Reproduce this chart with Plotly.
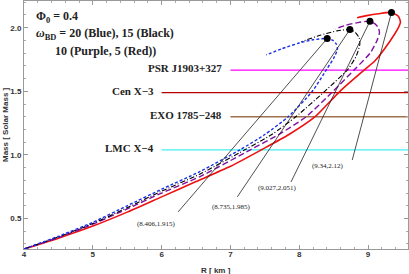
import plotly.graph_objects as go

# ---- Data ----
blue_R = [4.0, 4.5, 5.0, 5.5, 6.0, 6.56, 7.14, 7.5, 7.84, 8.19, 8.40, 8.50, 8.555, 8.54, 8.49, 8.406, 8.2, 8.0, 7.75, 7.52]
blue_M = [0.26, 0.36, 0.47, 0.60, 0.73, 0.87, 1.04, 1.16, 1.30, 1.50, 1.675, 1.76, 1.83, 1.87, 1.90, 1.915, 1.905, 1.88, 1.835, 1.786]

black_R = [4.0, 4.5, 5.0, 5.5, 6.0, 6.56, 7.21, 7.6, 7.95, 8.37, 8.71, 8.83, 8.88, 8.87, 8.82, 8.735, 8.55, 8.3, 8.03]
black_M = [0.26, 0.355, 0.46, 0.585, 0.715, 0.85, 1.04, 1.16, 1.30, 1.50, 1.675, 1.78, 1.87, 1.92, 1.96, 1.985, 1.975, 1.94, 1.89]

purple_R = [4.0, 4.5, 5.0, 5.5, 6.0, 6.56, 7.29, 7.7, 8.1, 8.49, 8.81, 9.03, 9.13, 9.165, 9.15, 9.10, 9.027, 8.85, 8.68, 8.52]
purple_M = [0.26, 0.35, 0.455, 0.575, 0.70, 0.83, 1.04, 1.16, 1.30, 1.50, 1.675, 1.80, 1.90, 1.96, 2.0, 2.03, 2.051, 2.04, 2.02, 1.99]

red_R = [4.0, 4.5, 5.0, 5.5, 6.0, 6.5, 7.0, 7.45, 7.85, 8.23, 8.59, 8.96, 9.10, 9.32, 9.44, 9.47, 9.44, 9.34, 9.15, 8.98, 8.84]
red_M = [0.26, 0.345, 0.44, 0.55, 0.67, 0.79, 0.91, 1.04, 1.16, 1.30, 1.50, 1.675, 1.74, 1.896, 2.0, 2.045, 2.09, 2.12, 2.11, 2.095, 2.078]

peak_R = [8.406, 8.735, 9.027, 9.34]
peak_M = [1.915, 1.985, 2.051, 2.12]
peak_labels = ["(8.406,1.915)", "(8.735,1.985)", "(9.027,2.051)", "(9.34,2.12)"]
# where each call-out line ends and where its label sits (data units)
callout_tail_R = [6.24, 7.10, 7.88, 8.77]
callout_tail_M = [0.552, 0.67, 0.787, 0.96]
callout_label_R = [5.93, 7.01, 7.69, 8.42]
callout_label_M = [0.457, 0.59, 0.74, 0.91]

star_names = ["PSR J1903+327", "Cen X\u22123", "EXO 1785\u2212248", "LMC X\u22124"]
star_M = [1.667, 1.49, 1.30, 1.04]
star_R_start = [7.0, 6.0, 7.0, 6.0]
star_colors = ["#ff00ff", "#b80000", "#a07050", "#44eef2"]

x_range = [4.0, 9.58]
y_range = [0.26, 2.21]

fig = go.Figure()

# reference lines
for name, m, r0, c in zip(star_names, star_M, star_R_start, star_colors):
    fig.add_trace(go.Scatter(x=[r0, x_range[1]], y=[m, m], mode="lines",
                             line=dict(color=c, width=1.3), hoverinfo="skip"))
    fig.add_annotation(x=r0, y=m, text="<b>%s</b>" % name, showarrow=False,
                       xanchor="right", yanchor="middle", xshift=-6, yshift=2,
                       font=dict(family="Liberation Serif", size=11, color="#222"))

curves = [
    (red_R, red_M, "#ee1111", "solid", 1.6),
    (purple_R, purple_M, "#8010a0", "6px,3px", 1.4),
    (black_R, black_M, "#000000", "5px,2px,1px,2px", 1.1),
    (blue_R, blue_M, "#1a2ee8", "3px,2px", 1.4),
]
for R, M, c, d, w in curves:
    fig.add_trace(go.Scatter(x=R, y=M, mode="lines",
                             line=dict(color=c, dash=d, width=w, shape="spline", smoothing=0.6),
                             hoverinfo="skip"))

# call-out lines
for pr, pm, tr, tm in zip(peak_R, peak_M, callout_tail_R, callout_tail_M):
    fig.add_trace(go.Scatter(x=[pr, tr], y=[pm, tm], mode="lines",
                             line=dict(color="#222", width=0.8), hoverinfo="skip"))

fig.add_trace(go.Scatter(x=peak_R, y=peak_M, mode="markers",
                         marker=dict(color="black", size=7), hoverinfo="skip"))

for lr, lm, t in zip(callout_label_R, callout_label_M, peak_labels):
    fig.add_annotation(x=lr, y=lm, text=t, showarrow=False,
                       font=dict(family="Liberation Serif", size=7, color="#222"))

# header text
txt_font = dict(family="Liberation Serif", size=12, color="#222")
fig.add_annotation(xref="paper", yref="paper", x=0, y=1, xshift=10, yshift=-16,
                   xanchor="left", yanchor="middle", showarrow=False,
                   text="<b>\u03a6<sub>0</sub> = 0.4</b>", font=txt_font)
fig.add_annotation(xref="paper", yref="paper", x=0, y=1, xshift=10, yshift=-33,
                   xanchor="left", yanchor="middle", showarrow=False,
                   text="<b><i>\u03c9</i><sub>BD</sub> = 20 (Blue), 15 (Black)</b>", font=txt_font)
fig.add_annotation(xref="paper", yref="paper", x=0, y=1, xshift=29, yshift=-50,
                   xanchor="left", yanchor="middle", showarrow=False,
                   text="<b>10 (Purple, 5 (Red))</b>", font=txt_font)

# axis titles
ttl_font = dict(family="Liberation Sans", size=8, color="#333", weight="bold")
fig.add_annotation(xref="paper", yref="paper", x=0, y=0.5, xshift=-19,
                   xanchor="center", yanchor="middle",
                   textangle=-90, showarrow=False, text="Mass [ Solar Mass ]", font=ttl_font)
fig.add_annotation(xref="paper", yref="paper", x=0.5, y=0, yshift=-21,
                   xanchor="center", yanchor="middle",
                   showarrow=False, text="R [ km ]", font=ttl_font)

axis_common = dict(showgrid=False, zeroline=False, showline=True, linecolor="#999",
                   linewidth=1, mirror="ticks", ticks="inside", tickcolor="#999",
                   ticklen=4, tickfont=dict(family="Liberation Sans", size=8, color="#333", weight="bold"))
fig.update_xaxes(range=x_range, tickvals=[4, 5, 6, 7, 8, 9], ticktext=["4", "5", "6", "7", "8", "9"],
                 ticklabelstandoff=-3,
                 minor=dict(ticks="inside", dtick=0.2, ticklen=2, tickcolor="#aaa"), **axis_common)
fig.update_yaxes(range=y_range, tickvals=[0.5, 1.0, 1.5, 2.0], ticktext=["0.5", "1.0", "1.5", "2.0"],
                 minor=dict(ticks="inside", dtick=0.1, ticklen=2, tickcolor="#aaa"), **axis_common)

fig.update_layout(width=409, height=274, margin=dict(l=24, r=1, t=1, b=25, autoexpand=False),
                  plot_bgcolor="white", paper_bgcolor="white", showlegend=False)

fig.write_html("out.html", config={"displayModeBar": False},
               post_script="document.body.style.margin='0px';document.body.style.overflow='hidden';")
